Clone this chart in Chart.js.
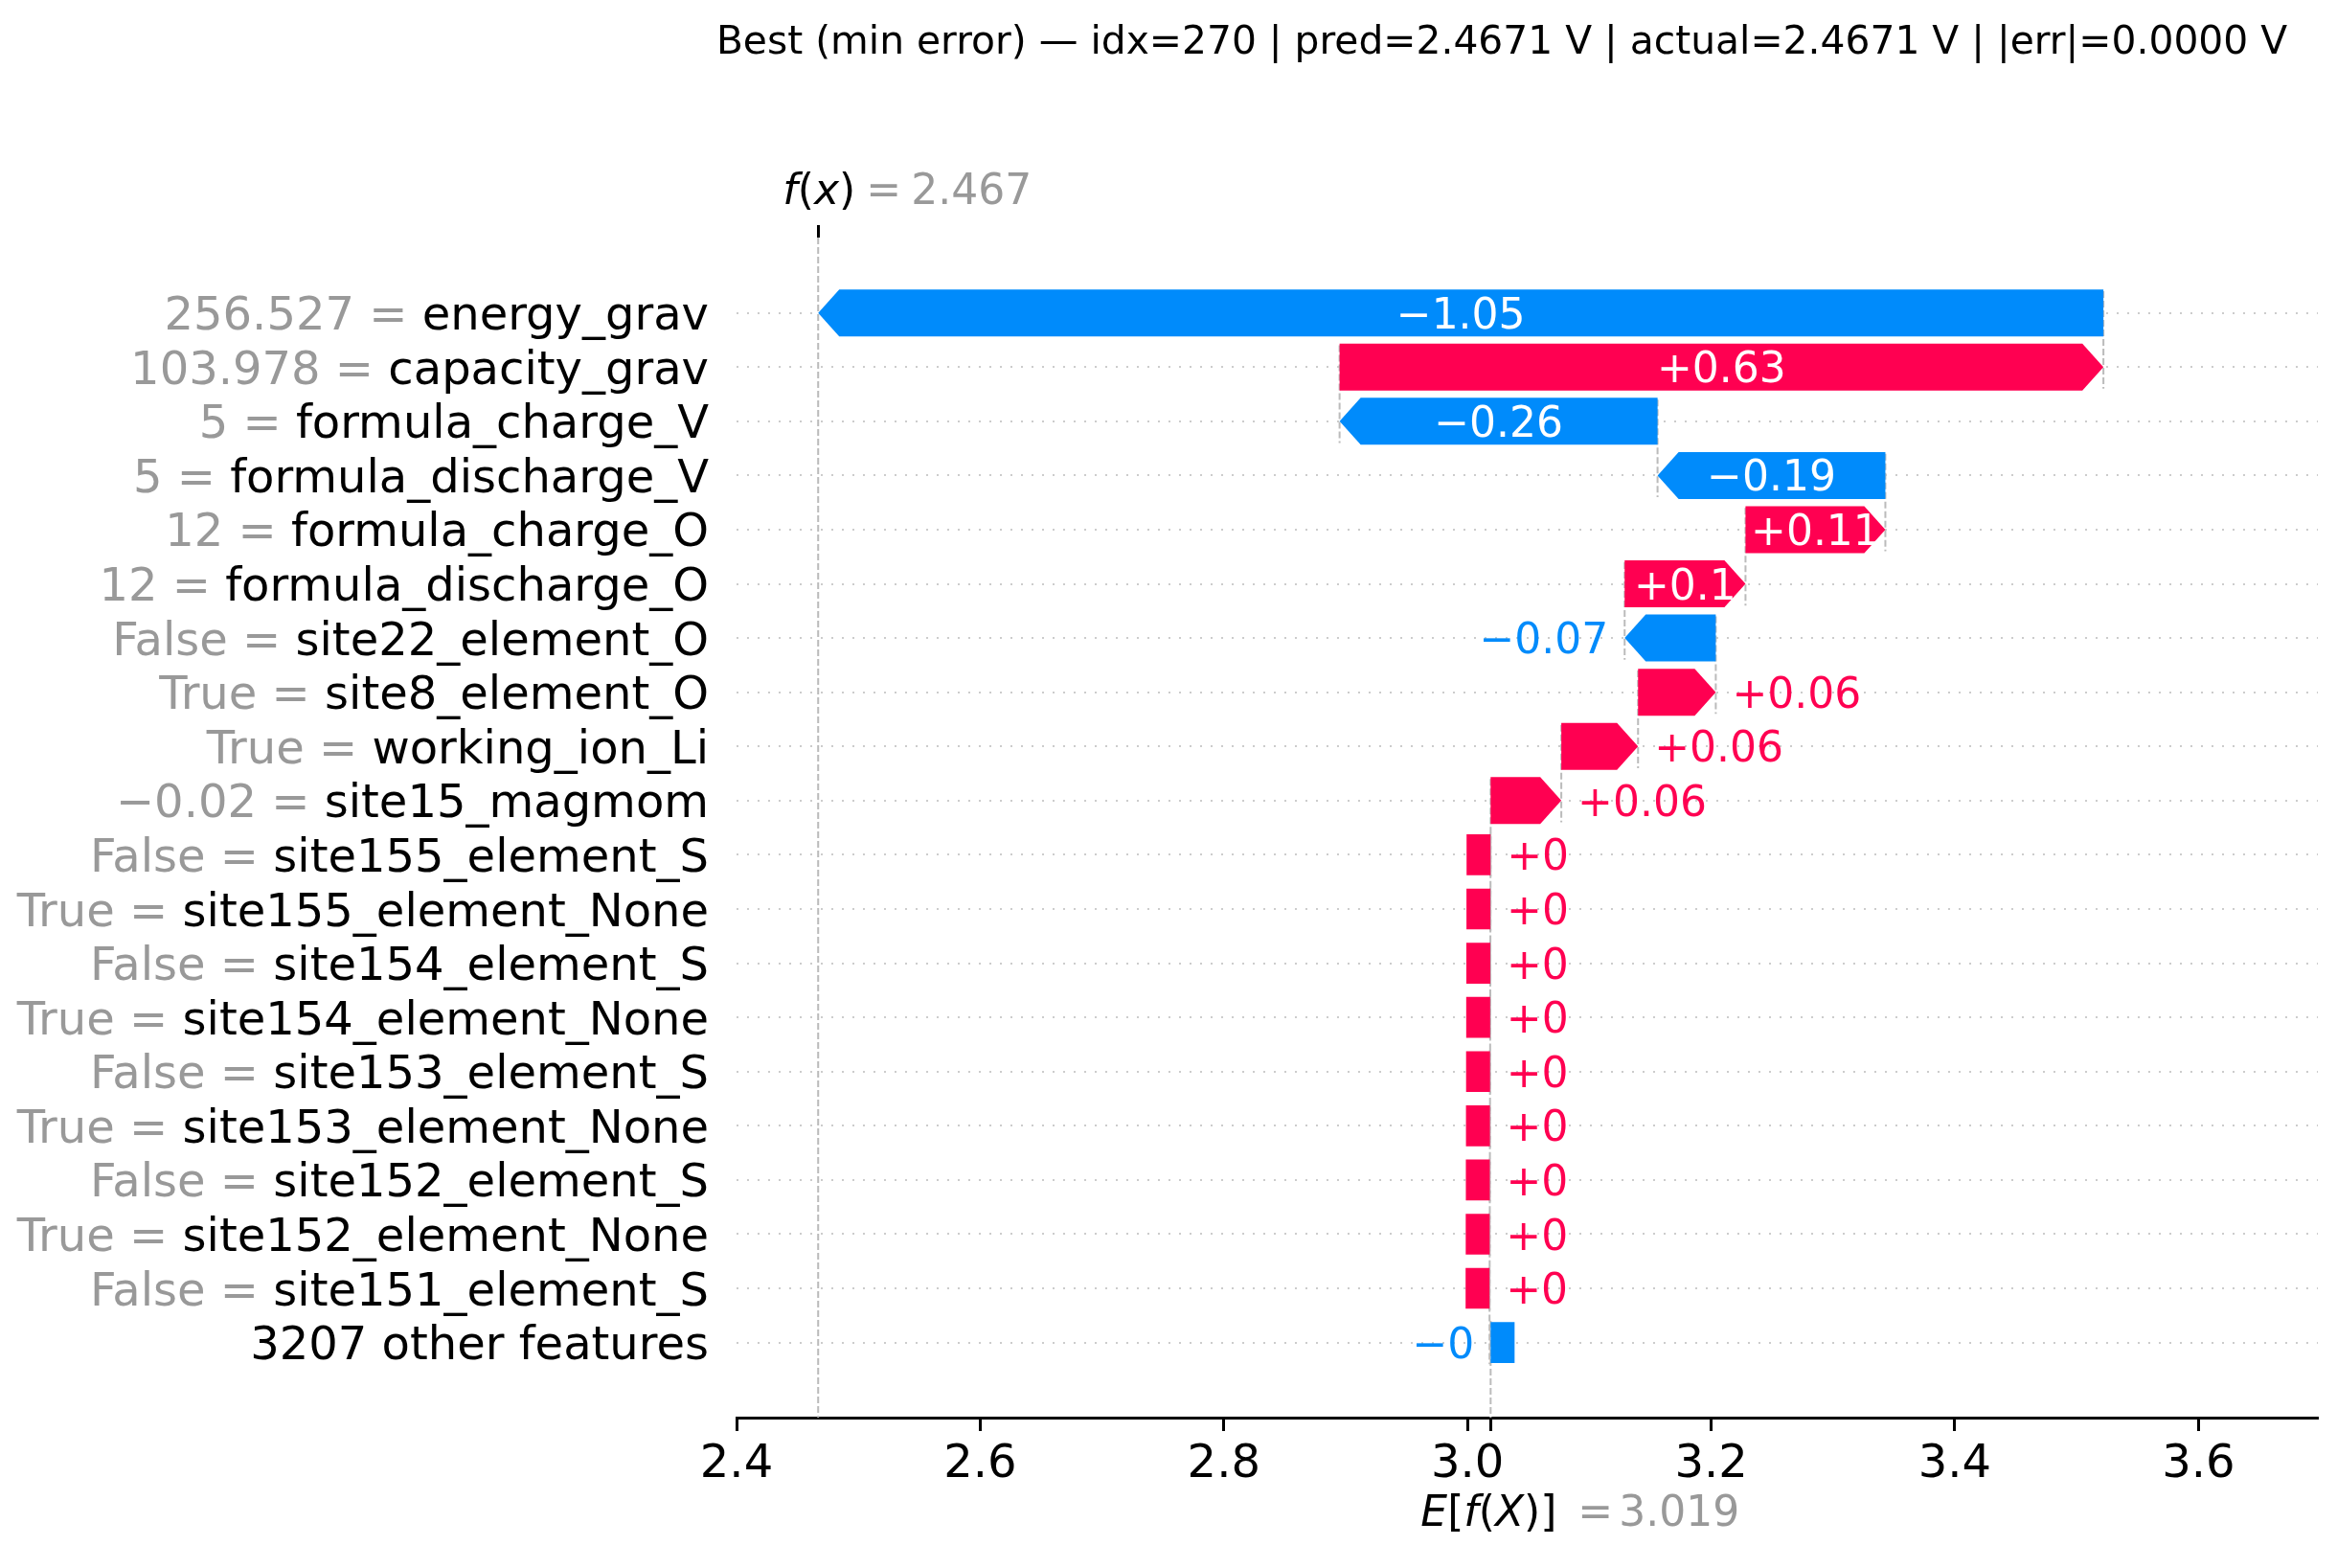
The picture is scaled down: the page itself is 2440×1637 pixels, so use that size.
<!DOCTYPE html>
<html><head><meta charset="utf-8">
<script src="https://cdn.jsdelivr.net/npm/chart.js@4.4.1/dist/chart.umd.min.js"></script>
<style>html,body{margin:0;padding:0;background:#fff;}#wrap{width:2440px;height:1637px;position:relative;}</style>
</head><body><div id="wrap"><canvas id="c"></canvas></div>
<script>
// ---------------- data ----------------
const titleText = "Best (min error) \u2014 idx=270 | pred=2.4671 V | actual=2.4671 V | |err|=0.0000 V";
const featureNames = ["energy_grav","capacity_grav","formula_charge_V","formula_discharge_V","formula_charge_O","formula_discharge_O","site22_element_O","site8_element_O","working_ion_Li","site15_magmom","site155_element_S","site155_element_None","site154_element_S","site154_element_None","site153_element_S","site153_element_None","site152_element_S","site152_element_None","site151_element_S","3207 other features"];
const featureValues = ["256.527","103.978","5","5","12","12","False","True","True","\u22120.02","False","True","False","True","False","True","False","True","False",""];
const shapValues = [-1.055,0.627,-0.261,-0.187,0.1148,0.0992,-0.0748,0.0638,0.063,0.058,0.0001,0.0001,0.0001,0.0001,0.0001,0.0001,0.0001,0.0001,0.0001,-0.0009];
const fxValue = 2.467;
const baseValue = 3.019;
const xTickValues = [2.4,2.6,2.8,3.0,3.2,3.4,3.6];

// ---------------- style / layout ----------------
const W = 2440, H = 1637;
const PAD_L = 769, PAD_R = 20, TOP_AXIS_H = 248, BOTTOM_AXIS_H = 157;
const X_MIN = 2.4, X_MAX = 3.698;
const Y_MIN = -1.39, Y_MAX = 20.385;
const RED = "#ff0051", BLUE = "#008bfb";
const FONT = "'DejaVu Sans', 'Liberation Sans', sans-serif";
const HEAD_PX = 22, TINY_PX = 25;

const cv = document.getElementById('c');
cv.width = W; cv.height = H; cv.style.width = W+'px'; cv.style.height = H+'px';

// cumulative waterfall positions (from f(x) down to E[f(X)])
const pxPerUnit = (W - PAD_L - PAD_R) / (X_MAX - X_MIN);
const locs = [];
let prev = fxValue;
const barData = shapValues.map((v, i) => {
  const loc = prev - v;
  locs.push(loc);
  let lo = Math.min(loc, prev), hi = Math.max(loc, prev);
  const tiny = (hi - lo) * pxPerUnit < HEAD_PX;
  if (tiny) {
    const w = TINY_PX / pxPerUnit;
    if (v >= 0) { lo = loc - w; hi = loc; } else { lo = loc; hi = loc + w; }
  }
  prev = loc;
  return { x: [lo, hi], y: i };
});

function fmtVal(v) {
  let s = Math.abs(v).toFixed(2).replace(/0+$/, '').replace(/\.$/, '');
  return (v < 0 ? "\u2212" : "+") + s;
}

const arrowPlugin = {
  id: 'arrows',
  beforeDatasetsDraw(chart) {
    const ctx = chart.ctx, xs = chart.scales.x, ys = chart.scales.y, ca = chart.chartArea;
    ctx.save();
    ctx.beginPath(); ctx.rect(ca.left, ca.top, ca.right - ca.left, ca.bottom - ca.top); ctx.clip();
    ctx.strokeStyle = '#bbbbbb'; ctx.lineWidth = 2; ctx.setLineDash([7, 3]);
    const fxp = xs.getPixelForValue(fxValue);
    ctx.beginPath(); ctx.moveTo(fxp, ca.top); ctx.lineTo(fxp, ca.bottom); ctx.stroke();
    locs.forEach((loc, i) => {
      const px = xs.getPixelForValue(loc);
      ctx.beginPath();
      ctx.moveTo(px, ys.getPixelForValue(i - 0.4));
      ctx.lineTo(px, ys.getPixelForValue(i + 1.4));
      ctx.stroke();
    });
    ctx.restore();
  },
  beforeDatasetDraw(chart, args) {
    const ctx = chart.ctx;
    const meta = args.meta;
    ctx.save();
    meta.data.forEach((el, i) => {
      const p = el.getProps(['x', 'y', 'base', 'height']);
      const left = Math.min(p.x, p.base), right = Math.max(p.x, p.base);
      const v = shapValues[i];
      const tiny = Math.abs(v) * pxPerUnit < HEAD_PX;
      ctx.fillStyle = v >= 0 ? RED : BLUE;
      ctx.beginPath();
      if (tiny) {
        const h = p.height * 0.87;
        ctx.rect(left, p.y - h / 2, right - left, h);
      } else {
        const top = p.y - p.height / 2, bot = p.y + p.height / 2;
        const hl = Math.min(HEAD_PX, right - left);
        if (v >= 0) {
          ctx.moveTo(left, top); ctx.lineTo(right - hl, top); ctx.lineTo(right, p.y);
          ctx.lineTo(right - hl, bot); ctx.lineTo(left, bot);
        } else {
          ctx.moveTo(left, p.y); ctx.lineTo(left + hl, top); ctx.lineTo(right, top);
          ctx.lineTo(right, bot); ctx.lineTo(left + hl, bot);
        }
        ctx.closePath();
      }
      ctx.fill();
    });
    ctx.restore();
    return false;
  },
  afterDatasetsDraw(chart) {
    const ctx = chart.ctx;
    const meta = chart.getDatasetMeta(0);
    ctx.save();
    ctx.font = "44px " + FONT;
    ctx.textBaseline = 'alphabetic';
    meta.data.forEach((el, i) => {
      const p = el.getProps(['x', 'y', 'base', 'height']);
      const left = Math.min(p.x, p.base), right = Math.max(p.x, p.base);
      const v = shapValues[i];
      const txt = fmtVal(v);
      const tw = ctx.measureText(txt).width;
      const by = p.y + 0.3645 * 44;
      if (tw < right - left) {
        ctx.fillStyle = '#ffffff'; ctx.textAlign = 'center';
        ctx.fillText(txt, (left + right) / 2, by);
      } else if (v >= 0) {
        ctx.fillStyle = RED; ctx.textAlign = 'left';
        ctx.fillText(txt, right + 17, by);
      } else {
        ctx.fillStyle = BLUE; ctx.textAlign = 'right';
        ctx.fillText(txt, left - 17, by);
      }
    });
    ctx.restore();
  },
  afterDraw(chart) {
    const ctx = chart.ctx, xs = chart.scales.x, ys = chart.scales.y;
    ctx.save();
    ctx.fillStyle = '#000'; ctx.font = "40.8px " + FONT; ctx.textAlign = 'center'; ctx.textBaseline = 'alphabetic';
    ctx.fillText(titleText, 1568, 56);
    ctx.font = "48px " + FONT; ctx.textAlign = 'right';
    const labelRight = xs.left - 29;
    featureNames.forEach((name, i) => {
      const by = ys.getPixelForValue(i) + 0.3645 * 48;
      ctx.fillStyle = '#000';
      ctx.fillText(name, labelRight, by);
      if (featureValues[i] !== "") {
        const nw = ctx.measureText(name).width;
        ctx.fillStyle = '#999999';
        ctx.fillText(featureValues[i] + " = ", labelRight - nw, by);
      }
    });
    function drawSeq(parts, x, y) {
      ctx.textAlign = 'left';
      parts.forEach(([t, it, col]) => {
        ctx.font = (it ? "italic " : "") + "44px " + FONT;
        ctx.fillStyle = col;
        ctx.fillText(t, x, y);
        x += ctx.measureText(t).width;
      });
    }
    const fxp = xs.getPixelForValue(fxValue);
    drawSeq([["f", true, '#000'], ["(", false, '#000'], ["x", true, '#000'], [")", false, '#000']], fxp - 37, 213);
    drawSeq([["=", false, '#999999']], fxp + 50, 213);
    drawSeq([[fxValue.toFixed(3), false, '#999999']], fxp + 97, 213);
    const ep = xs.getPixelForValue(baseValue);
    drawSeq([["E", true, '#000'], ["[", false, '#000'], ["f", true, '#000'], ["(", false, '#000'], ["X", true, '#000'], [")]", false, '#000']], ep - 73, 1593);
    drawSeq([["=", false, '#999999']], ep + 91, 1593);
    drawSeq([[baseValue.toFixed(3), false, '#999999']], ep + 134, 1593);
    ctx.restore();
  }
};

new Chart(cv, {
  type: 'bar',
  data: {
    datasets: [{
      data: barData,
      backgroundColor: shapValues.map(v => v >= 0 ? RED : BLUE),
      borderWidth: 0,
      categoryPercentage: 1.0,
      barPercentage: 0.866
    }]
  },
  options: {
    indexAxis: 'y',
    responsive: false,
    animation: false,
    devicePixelRatio: 1,
    layout: { padding: { left: PAD_L, right: PAD_R, top: 0, bottom: 0 } },
    plugins: { legend: { display: false }, tooltip: { enabled: false }, title: { display: false } },
    scales: {
      x: {
        type: 'linear', position: 'bottom', min: X_MIN, max: X_MAX, offset: false,
        afterBuildTicks: (s) => { s.ticks = xTickValues.concat([baseValue]).sort((a, b) => a - b).map(v => ({ value: v })); },
        afterFit: (s) => { s.height = BOTTOM_AXIS_H; },
        ticks: {
          autoSkip: false, maxRotation: 0, minRotation: 0, padding: 7,
          color: '#000', font: { family: FONT, size: 48 },
          callback: (value) => (Math.abs(value - baseValue) < 1e-9 ? '' : Number(value).toFixed(1))
        },
        grid: { display: true, offset: false, drawOnChartArea: false, drawTicks: true, tickLength: 14, tickWidth: 3, tickColor: '#000' },
        border: { display: true, color: '#000', width: 3 }
      },
      xTop: {
        type: 'linear', position: 'top', min: X_MIN, max: X_MAX, offset: false,
        afterBuildTicks: (s) => { s.ticks = [{ value: fxValue }]; },
        afterFit: (s) => { s.height = TOP_AXIS_H; },
        ticks: { autoSkip: false, maxRotation: 0, callback: () => '' },
        grid: { display: true, offset: false, drawOnChartArea: false, drawTicks: true, tickLength: 13, tickWidth: 3, tickColor: '#000' },
        border: { display: false }
      },
      y: {
        type: 'linear', position: 'left', reverse: true, min: Y_MIN, max: Y_MAX, offset: false,
        afterBuildTicks: (s) => { s.ticks = featureNames.map((_, i) => ({ value: i })); },
        afterFit: (s) => { s.width = 0; },
        ticks: { display: false },
        grid: { display: true, offset: false, drawOnChartArea: true, drawTicks: false, color: '#cccccc', lineWidth: 2 },
        border: { display: false, dash: [2, 9] }
      }
    }
  },
  plugins: [arrowPlugin]
});
</script></body></html>
